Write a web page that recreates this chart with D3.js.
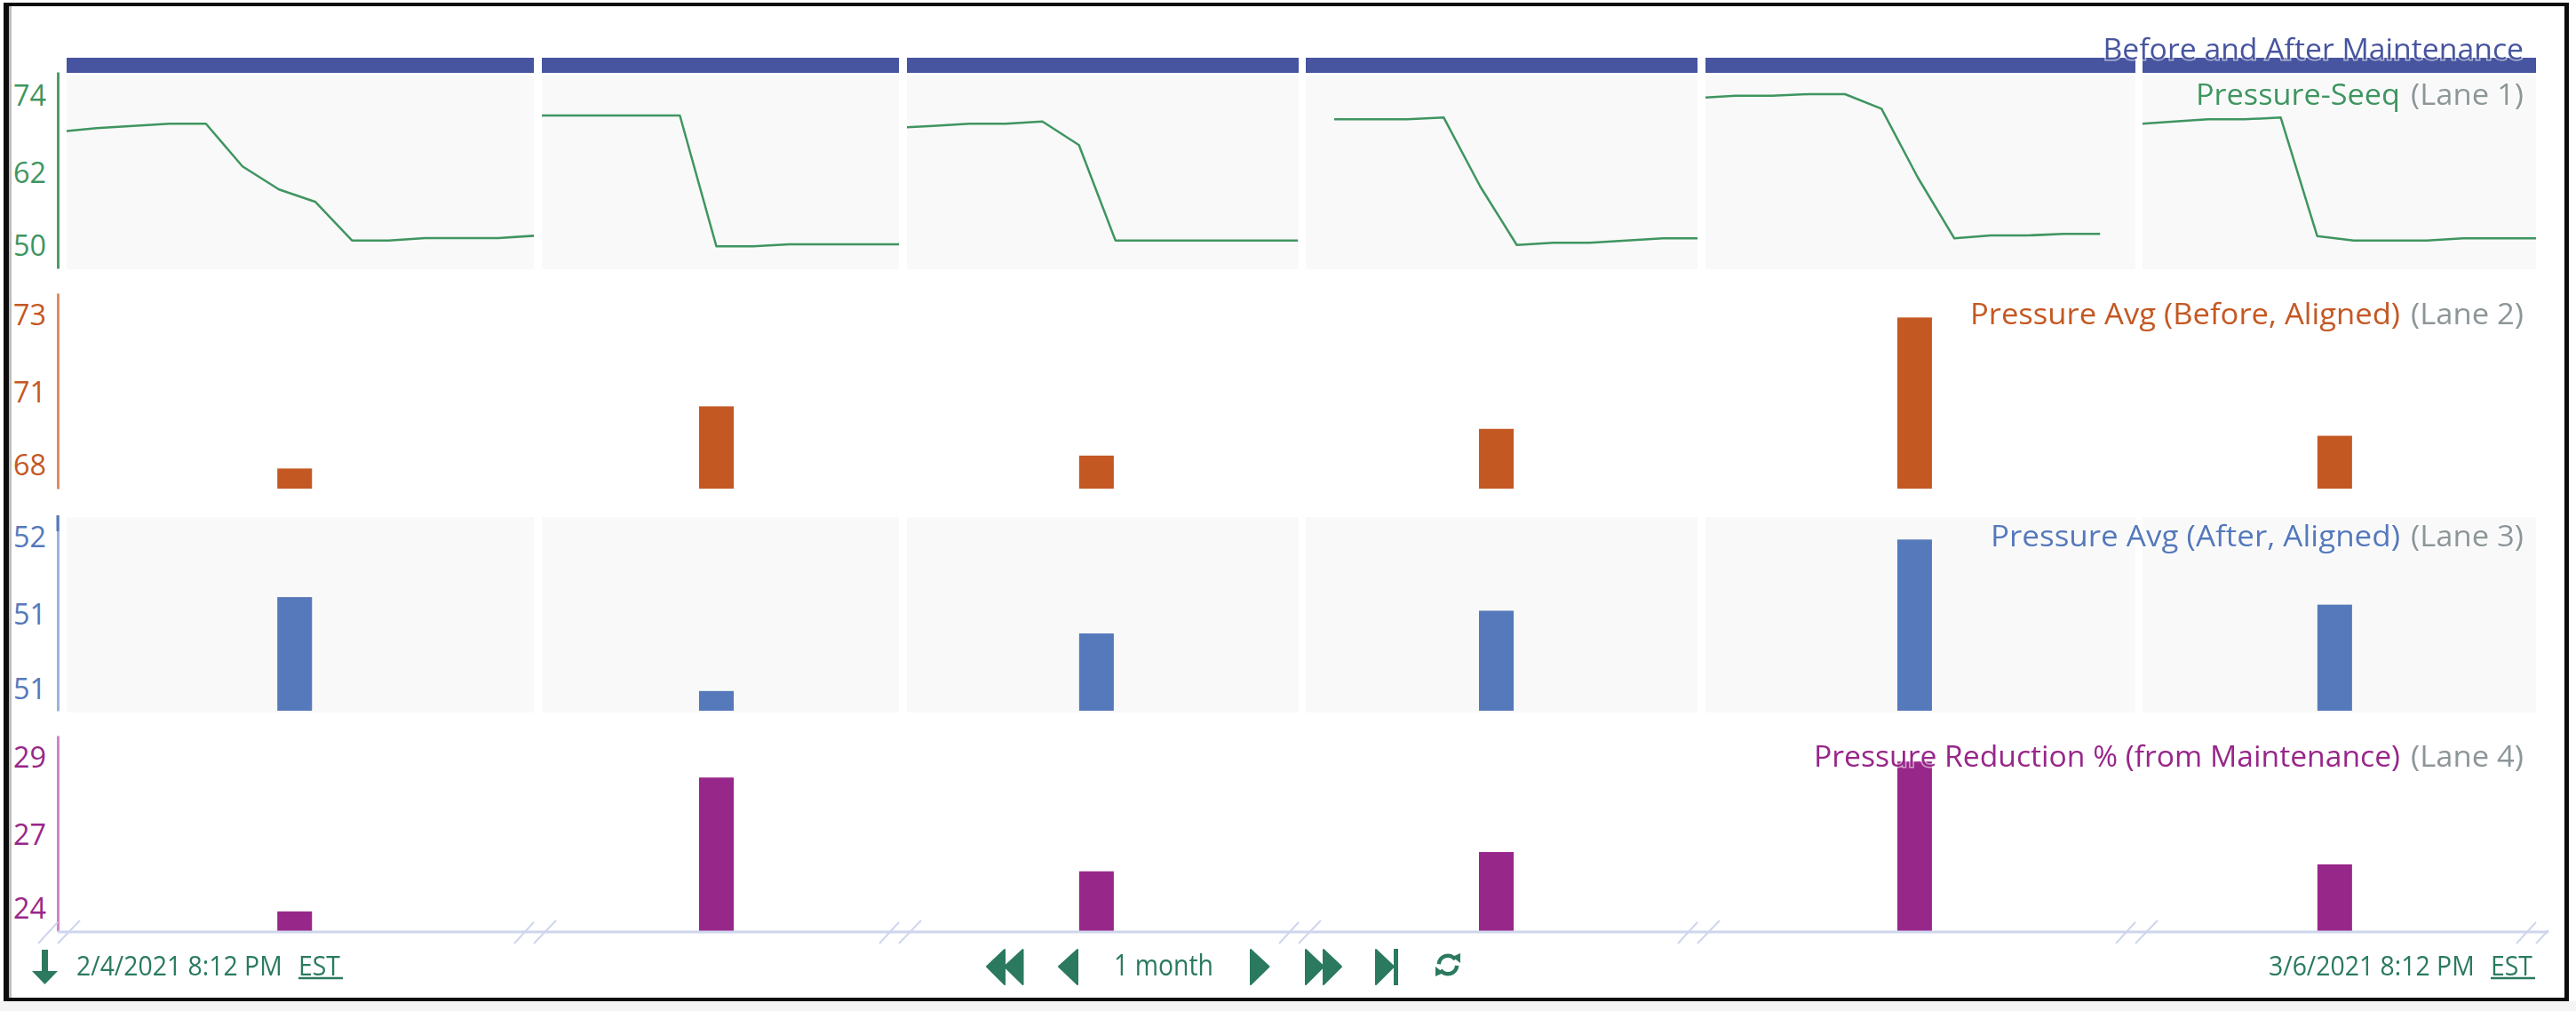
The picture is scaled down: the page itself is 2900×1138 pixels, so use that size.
<!DOCTYPE html>
<html><head><meta charset="utf-8">
<script src="https://cdn.jsdelivr.net/npm/d3@7/dist/d3.min.js"></script>
<style>html,body{margin:0;padding:0;background:#fff}svg{display:block}text{font-family:"Open Sans",sans-serif}</style>
</head><body><svg id="c" width="2900" height="1138"></svg>
<script>
// ---- data ----
const seqPanel1 = [68.28,68.85,69.22,69.56,69.56,62.74,59.05,57.06,50.9,50.9,51.28,51.28,51.28,51.66];
const seqPanel2 = [70.88,70.88,70.88,70.88,70.88,49.96,49.96,50.28,50.28,50.28,50.28];
const seqPanel3 = [68.89,69.22,69.56,69.56,69.93,66.15,50.9,50.9,50.9,50.9,50.9,50.9];
const seqPanel4 = [70.27,70.27,70.27,70.55,59.52,50.18,50.53,50.53,50.9,51.24,51.24];
const seqPanel5 = [73.68,74.05,74.05,74.29,74.29,71.97,60.94,51.24,51.7,51.7,51.95,51.95];
const seqPanel6 = [69.46,69.89,70.27,70.27,70.55,51.6,50.9,50.9,50.9,51.24,51.24,51.24];
const avgBefore = [67.90,69.97,68.33,69.22,72.93,68.99];
const avgAfter  = [51.56,50.94,51.32,51.47,51.94,51.51];
const reduction = [23.91,28.35,25.24,25.88,28.88,25.47];
const barTimes  = [6.43,5.0,5.48,4.44,5.91,5.48];
const panelTimes = [[0.185,12.98],[0.22,10.0],[0.287,11.02],[-0.78,9.95],[0.17,11.97],[0.21,11.0]];
const lane1Ticks = [74,61.6,50];        const lane1Labels = ["74","62","50"];
const lane2Ticks = [73,70.43,68];       const lane2Labels = ["73","71","68"];
const lane3Ticks = [51.95,51.44,50.95]; const lane3Labels = ["52","51","51"];
const lane4Ticks = [29,26.44,24];       const lane4Labels = ["29","27","24"];
const lane1Domain = [46.45,77.84], lane2Domain = [67.23,73.74], lane3Domain = [50.81,52.10], lane4Domain = [23.26,29.74];
const headerTitle = "Before and After Maintenance";
const laneTitles = ["Pressure-Seeq","Pressure Avg (Before, Aligned)","Pressure Avg (After, Aligned)","Pressure Reduction % (from Maintenance)"];
const laneTags = ["(Lane 1)","(Lane 2)","(Lane 3)","(Lane 4)"];
const rangeStart = "2/4/2021 8:12 PM", rangeEnd = "3/6/2021 8:12 PM", zoneLabel = "EST", spanLabel = "1 month";

// ---- layout ----
const panelPx = [[75,601],[610,1012],[1021,1462],[1470,1911],[1920,2404],[2412,2855]];
const laneBox = [[81,302],[330,550],[580,800],[828,1048]];
const bgBox = [[85,303],null,[582,802],null];
const axisX = 65, barSpan = 0.95;
const colors = {green:"#3f9560",orange:"#c45823",blue:"#5579bb",purple:"#98278a",gray:"#8d9699",navy:"#47549f",nav:"#2b7a5f",rule:"#ced6ec"};
const axisColors = ["#4b9d68","#e08a62","#9db3de","#cf85c4"];
const laneColors = [colors.green,colors.orange,colors.blue,colors.purple];

const svg = d3.select("#c");
const defs = svg.append("defs");
defs.append("filter").attr("id","soft").attr("x","-5%").attr("y","-20%").attr("width","110%").attr("height","140%")
  .append("feGaussianBlur").attr("stdDeviation",0.5);
const xs = panelTimes.map((d,i)=>d3.scaleLinear().domain(d).range(panelPx[i]));
const ys = [lane1Domain,lane2Domain,lane3Domain,lane4Domain].map((d,i)=>d3.scaleLinear().domain(d).range([laneBox[i][1],laneBox[i][0]]));

// panel backgrounds
bgBox.forEach(b=>{ if(!b) return;
  svg.append("g").selectAll("rect").data(panelPx).join("rect")
    .attr("x",d=>d[0]).attr("width",d=>d[1]-d[0]).attr("y",b[0]).attr("height",b[1]-b[0]).attr("fill","#f9f9f9");
});
// header band
svg.append("g").selectAll("rect").data(panelPx).join("rect")
  .attr("x",d=>d[0]).attr("width",d=>d[1]-d[0]).attr("y",65).attr("height",17).attr("fill",colors.navy);

// lane 1 lines
const seqs = [seqPanel1,seqPanel2,seqPanel3,seqPanel4,seqPanel5,seqPanel6];
seqs.forEach((s,p)=>{
  defs.append("clipPath").attr("id","cp"+p).append("rect")
    .attr("x",panelPx[p][0]).attr("width",panelPx[p][1]-panelPx[p][0]).attr("y",laneBox[0][0]).attr("height",222);
  const line = d3.line().x((d,i)=>xs[p](i)).y(d=>ys[0](d));
  svg.append("path").datum(s).attr("d",line).attr("fill","none").attr("stroke",colors.green)
    .attr("stroke-width",2.5).attr("stroke-linejoin","round").attr("clip-path",`url(#cp${p})`);
});

// bar lanes
[[avgBefore,1],[avgAfter,2],[reduction,3]].forEach(([vals,l])=>{
  const yScale = ys[l], base = yScale.domain()[0];
  svg.append("g").selectAll("rect").data(vals).join("rect")
    .attr("x",(d,i)=>xs[i](barTimes[i]-barSpan/2))
    .attr("width",(d,i)=>xs[i](barTimes[i]+barSpan/2)-xs[i](barTimes[i]-barSpan/2))
    .attr("y",d=>yScale(d)).attr("height",d=>yScale(base)-yScale(d)).attr("fill",laneColors[l]);
});

// y axes
[[lane1Ticks,lane1Labels],[lane2Ticks,lane2Labels],[lane3Ticks,lane3Labels],[lane4Ticks,lane4Labels]].forEach(([t,lab],l)=>{
  const g = svg.append("g").attr("transform",`translate(${axisX},0)`)
    .call(d3.axisLeft(ys[l]).tickValues(t).tickFormat((d,i)=>lab[i]).tickSize(0).tickPadding(13));
  g.select(".domain").attr("stroke",axisColors[l]).attr("stroke-width",3);
  g.selectAll("text").attr("fill",laneColors[l]).attr("font-size",32)
    .attr("font-family","Open Sans").attr("textLength",37).attr("lengthAdjust","spacingAndGlyphs");
});
// darker top stub on the lane 3 axis
svg.append("line").attr("x1",axisX).attr("x2",axisX).attr("y1",580).attr("y2",598).attr("stroke",colors.blue).attr("stroke-width",3);

// x rule with break marks
const ruleY = 1049;
svg.append("line").attr("x1",axisX).attr("x2",2869).attr("y1",ruleY).attr("y2",ruleY).attr("stroke",colors.rule).attr("stroke-width",3);
const breaks = [axisX].concat(panelPx.map(d=>d[1]));
const slashes = svg.append("g").attr("stroke",colors.rule).attr("stroke-width",2).attr("fill","none");
breaks.forEach((b,i)=>{
  slashes.append("line").attr("x1",b-22).attr("y1",1062).attr("x2",b).attr("y2",1038);
  slashes.append("line").attr("x1",b).attr("y1",1062).attr("x2",i===breaks.length-1?b+14:b+25).attr("y2",i===breaks.length-1?1047:1036);
});

// text helper
function label(x,y,txt,fill,len,opts={}){
  const halo = opts.halo;
  const t = svg.append("text").attr("x",x).attr("y",y).attr("text-anchor",opts.anchor||"end")
    .attr("font-size",opts.size||33).attr("fill",fill).text(txt);
  if(len) t.attr("textLength",len).attr("lengthAdjust","spacingAndGlyphs");
  if(halo) t.attr("stroke","#ffffff").attr("stroke-opacity",0.55).attr("stroke-width",3).attr("paint-order","stroke");
  t.attr("filter","url(#soft)");
  return t;
}
const titleRight = 2841, mainRight = 2702;
const baselines = [118,365,615,863];
const mainWidths = [230,484,461,660];
label(titleRight,66.5,headerTitle,colors.navy,473.5,{halo:true});
laneTitles.forEach((t,i)=>{
  label(mainRight,baselines[i],t,laneColors[i],mainWidths[i],{halo:true});
  label(titleRight,baselines[i],laneTags[i],colors.gray,127,{halo:true});
});

// bottom bar text: natural width, stretched vertically to the reference's letter height
const navBase = 1098, navStretch = 1.12;
function navText(x,txt){
  svg.append("text").attr("transform",`translate(${x},${navBase}) scale(1,${navStretch})`)
    .attr("font-size",28.4).attr("fill",colors.nav).attr("filter","url(#soft)").text(txt);
}
[[86,336,rangeStart],[2554,2804,rangeEnd]].forEach(([x,zx,date])=>{
  navText(x,date);
  navText(zx,zoneLabel);
  svg.append("line").attr("x1",zx).attr("x2",zx+50).attr("y1",1101).attr("y2",1101).attr("stroke",colors.nav).attr("stroke-width",2.5);
});
label(1254,navBase,spanLabel,colors.nav,112,{anchor:"start",size:32});

// nav icons
const poly = d3.line();
const tri = (base,tip)=>[[base,1069],[tip,1088],[base,1108]];
[[1131,1111],[1151.5,1131],[1213,1192],[1408,1428.5],[1470,1490],[1490,1510],[1549,1569]].forEach(([b,t])=>{
  svg.append("path").attr("d",poly(tri(b,t))+"Z").attr("fill",colors.nav).attr("stroke",colors.nav).attr("stroke-width",2).attr("stroke-linejoin","round");
});
svg.append("rect").attr("x",1569).attr("y",1068).attr("width",5).attr("height",41).attr("fill",colors.nav);
// down arrow
svg.append("path").attr("d",poly([[47,1069],[54,1069],[54,1093],[65,1093],[50.5,1108],[36,1093],[47,1093]])+"Z").attr("fill",colors.nav);
// refresh glyph
const ring = d3.arc().innerRadius(8).outerRadius(12.5);
const refresh = svg.append("g").attr("transform","translate(1630,1086)").attr("fill",colors.nav);
refresh.append("path").attr("d",ring({startAngle:-1.5,endAngle:0.95}));
refresh.append("path").attr("d",ring({startAngle:1.65,endAngle:4.1}));
refresh.append("path").attr("d",poly([[5,-9],[14,-13],[14,-2]])+"Z");
refresh.append("path").attr("d",poly([[-5,9],[-14,13],[-14,2]])+"Z");

// screenshot frame
const frame = svg.append("g");
frame.append("rect").attr("x",0).attr("y",1127).attr("width",2900).attr("height",11).attr("fill","#f4f4f4");
frame.append("rect").attr("x",10).attr("y",7).attr("width",3).attr("height",1116).attr("fill","#bdbdbd");
frame.append("rect").attr("x",4).attr("y",3).attr("width",2888).attr("height",4).attr("fill","#0c0c0c");
frame.append("rect").attr("x",4).attr("y",1123).attr("width",2888).attr("height",4).attr("fill","#0c0c0c");
frame.append("rect").attr("x",4).attr("y",3).attr("width",6).attr("height",1124).attr("fill","#0c0c0c");
frame.append("rect").attr("x",2887).attr("y",3).attr("width",5).attr("height",1124).attr("fill","#0c0c0c");
</script></body></html>
